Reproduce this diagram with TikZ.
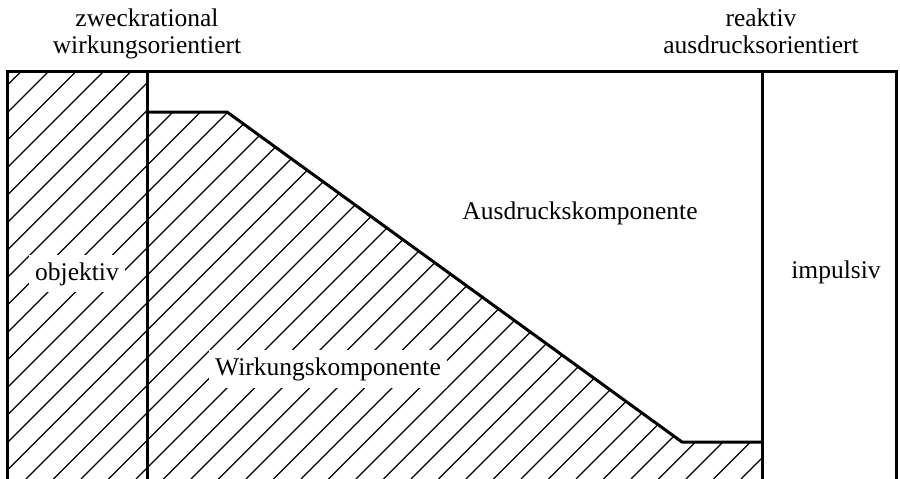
\documentclass[tikz,border=0pt]{standalone}
\usepackage{fontspec}
\setmainfont{Liberation Serif}
\begin{document}
\begin{tikzpicture}[x=1pt,y=-1pt,
  frame/.style={line width=3pt,line join=miter},
  hatchline/.style={line width=1.3pt},
  lbl/.style={font=\fontsize{25.5}{27}\selectfont,anchor=base,inner sep=0pt,align=center},
  boxlbl/.style={font=\fontsize{25.5}{27}\selectfont,anchor=base,fill=white,inner xsep=6pt,inner ysep=7pt}]
\useasboundingbox (0,0) rectangle (900,479);
% hatching: left column
\begin{scope}
\clip (7,71) rectangle (147,479);
\foreach \k in {0,...,52} {\draw[hatchline] ({10+27.5*\k},0) -- ({10+27.5*\k-479},479);}
\end{scope}
% hatching: Wirkungskomponente region
\begin{scope}
\clip (147,112) -- (227,112) -- (682,442) -- (762,442) -- (762,479) -- (147,479) -- cycle;
\foreach \k in {0,...,52} {\draw[hatchline] ({10+27.5*\k},0) -- ({10+27.5*\k-479},479);}
\end{scope}
% coordinates
\coordinate (bl) at (7,479);
\coordinate (tl) at (7,71);
\coordinate (tr) at (896,71);
\coordinate (br) at (896,479);
\coordinate (c1t) at (147,71);
\coordinate (c1b) at (147,479);
\coordinate (c2t) at (762,71);
\coordinate (c2b) at (762,479);
\coordinate (p1) at (147,112);
\coordinate (p2) at (227,112);
\coordinate (p3) at (682,442);
\coordinate (p4) at (762,442);
% frame
\draw[frame] (bl) -- (tl) -- (tr) -- (br);
\draw[frame] (c1t) -- (c1b);
\draw[frame] (c2t) -- (c2b);
\draw[frame] (p1) -- (p2) -- (p3) -- (p4);
% labels
\node[lbl] (zr) at (147,27) {zweckrational};
\node[lbl] (wo) at (147,53) {wirkungsorientiert};
\node[lbl] (re) at (761,27) {reaktiv};
\node[lbl] (ao) at (761,53) {ausdrucksorientiert};
\node[boxlbl] (obj) at (77,280) {objektiv};
\node[lbl] (imp) at (836,278) {impulsiv};
\node[lbl] (ak) at (580,219) {Ausdruckskomponente};
\node[boxlbl] (wk) at (328,375) {Wirkungskomponente};
\end{tikzpicture}
\end{document}
